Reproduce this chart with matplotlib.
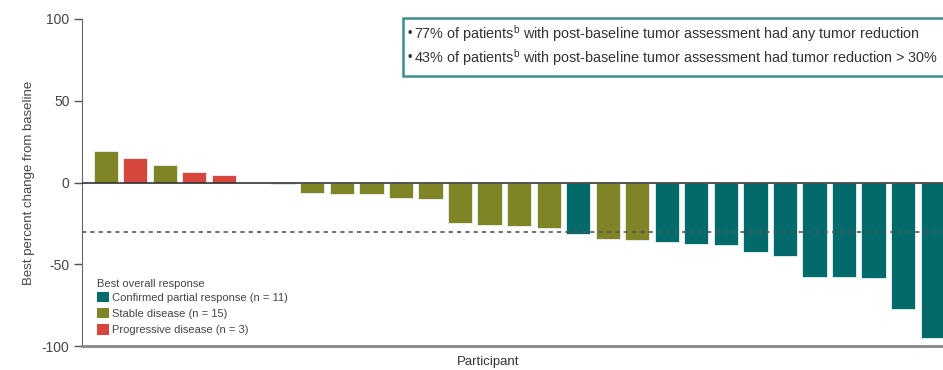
import numpy as np
import matplotlib.pyplot as plt
from matplotlib.patches import Patch, Rectangle

plt.rcParams['font.family'] = ['Liberation Sans', 'DejaVu Sans']
plt.rcParams['mathtext.default'] = 'regular'

# best percent change per participant, waterfall order
change = [19, 15, 11, 6.3, 4.5, 0, -1.2, -6.3, -6.9, -7.3, -9.6, -9.8,
          -24.9, -25.9, -26.5, -27.9, -31.6, -34.7, -35.1, -36.3, -37.5,
          -38.1, -42.6, -45.1, -57.5, -57.7, -58.3, -77.5, -95.2]
response = ['SD', 'PD', 'SD', 'PD', 'PD', 'SD', 'SD', 'SD', 'SD', 'SD', 'SD', 'SD',
            'SD', 'SD', 'SD', 'SD', 'PR', 'SD', 'SD', 'PR', 'PR',
            'PR', 'PR', 'PR', 'PR', 'PR', 'PR', 'PR', 'PR']
labels = {'PR': 'Confirmed partial response (n = 11)',
          'SD': 'Stable disease (n = 15)',
          'PD': 'Progressive disease (n = 3)'}
colors = {'PR': '#026a6b', 'SD': '#7f8527', 'PD': '#d7463c'}
threshold = -30

fig = plt.figure(figsize=(9.43, 3.70), dpi=100)
ax = fig.add_axes([82/943, 24/370, 1 - 82/943, 327/370])

x = np.arange(len(change))
ax.bar(x, change, width=0.82, color=[colors[r] for r in response],
       edgecolor='#e8f4f4', linewidth=0.6, zorder=2)
ax.axhline(0, color='#333333', lw=1.2, zorder=3)
ax.axhline(threshold, color='#555555', lw=1.2, ls=(0, (2.5, 2.5)), zorder=4)

ax.set_xlim(-0.8, 28.35)
ax.set_ylim(-100, 100)
ax.set_yticks([100, 50, 0, -50, -100])
ax.set_yticklabels(['100', '50', '0', '-50', '-100'])
ax.set_xticks([])
ax.tick_params(axis='y', labelsize=10, color='#555555', length=6, width=1, pad=3,
               labelcolor='#444444')
for s in ['top', 'right']:
    ax.spines[s].set_visible(False)
ax.spines['left'].set_color('#666666')
ax.spines['bottom'].set_color('#888888')
ax.spines['bottom'].set_linewidth(2)
ax.spines['left'].set_bounds(-100, 100)

ax.set_ylabel('Best percent change from baseline', fontsize=9.5, color='#444444', labelpad=5)
fig.text(488/943, 1 - 362/370, 'Participant', ha='center', va='center',
         fontsize=9.5, color='#333333')

handles = [Patch(facecolor=colors[k], edgecolor='none', label=labels[k]) for k in ['PR', 'SD', 'PD']]
leg = ax.legend(handles=handles, title='Best overall response', loc='lower left',
                bbox_to_anchor=(0.012, 0.02), frameon=False, fontsize=8,
                title_fontsize=8, handlelength=1.1, handleheight=1.1,
                handletextpad=0.3, labelspacing=0.45, borderaxespad=0)
leg._legend_box.align = 'left'
leg._legend_box.sep = 2
for t in leg.get_texts():
    t.set_color('#444444')
leg.get_title().set_color('#444444')

# summary box in the upper right
fig.patches.append(Rectangle((403/943, 1 - 76/370), 545/943, 58/370,
                             transform=fig.transFigure, facecolor='white',
                             edgecolor='#3f8f8f', linewidth=1.8, zorder=5))
notes = ['77% of patients$^{b}$ with post-baseline tumor assessment had any tumor reduction',
         '43% of patients$^{b}$ with post-baseline tumor assessment had tumor reduction > 30%']
for i, line in enumerate(notes):
    y = 1 - (34 + 24 * i) / 370
    fig.text(408/943, y, '\u2022', ha='left', va='center', fontsize=9, color='#1a2a4a', zorder=6)
    fig.text(414/943, y, line, ha='left', va='center', fontsize=10.4,
             color='#333333', zorder=6)

fig.savefig('out.png', dpi=100)
